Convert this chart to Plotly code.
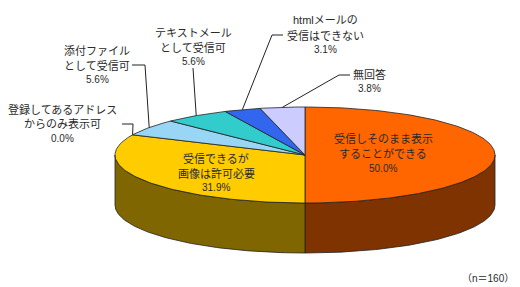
import math
import plotly.graph_objects as go

# ---- data ----
categories = [["受信しそのまま表示", "することができる"],
              ["受信できるが", "画像は許可必要"],
              ["登録してあるアドレス", "からのみ表示可"],
              ["添付ファイル", "として受信可"],
              ["テキストメール", "として受信可"],
              ["htmlメールの", "受信はできない"],
              ["無回答"]]
values = [50.0, 31.9, 0.0, 5.6, 5.6, 3.1, 3.8]
note = "（n＝160）"

# ---- style ----
top_colors = ["#FF6600", "#FFCC00", "#99CCFF", "#99D6F5", "#33CCCC", "#3366EE", "#CCCCFF"]
side_colors = ["#7F3300", "#806600", "#4C667F", "#4C6B7A", "#196666", "#193377", "#66667F"]
CX, CY, RX, RY, DEPTH = 305, 155, 190, 48, 50
FONT = "Liberation Sans, Noto Sans CJK JP, sans-serif"
TXT = "#2a2a2a"

# label layout: (x, y of each name line, y of percent line, leader path points before anchor)
label_pos = [
    (383, [138, 153], 168, None),
    (216, [158, 173], 187, None),
    (62, [109, 124], 138, [(122, 124), (133, 124)]),
    (97, [51, 65], 79, [(132, 65), (145, 65)]),
    (193, [33, 47], 61, [(193, 68)]),
    (325, [20, 35], 49, [(283, 35), (272, 35)]),
    (369, [74], 88, [(350, 75), (339, 75)]),
]


def pt(t_deg, dy=0.0):
    t = math.radians(t_deg)
    return CX + RX * math.sin(t), CY - RY * math.cos(t) + dy


def arc(a0, a1, dy=0.0):
    n = max(2, int(abs(a1 - a0)) + 2)
    return [pt(a0 + (a1 - a0) * i / (n - 1), dy) for i in range(n)]


total = sum(values)
angles = []
acc = 0.0
for v in values:
    a0 = acc / total * 360.0
    acc += v
    a1 = acc / total * 360.0
    angles.append((a0, a1))

fig = go.Figure()

# side faces (visible front half 90..270)
for (a0, a1), sc in zip(angles, side_colors):
    lo, hi = max(a0, 90.0), min(a1, 270.0)
    if hi - lo <= 0:
        continue
    top = arc(lo, hi)
    bot = arc(hi, lo, DEPTH)
    poly = top + bot + [top[0]]
    fig.add_trace(go.Scatter(x=[p[0] for p in poly], y=[p[1] for p in poly],
                             mode="lines", fill="toself", fillcolor=sc,
                             line=dict(color="#222222", width=0.8),
                             hoverinfo="skip", showlegend=False))

# top faces
for (a0, a1), tc in zip(angles, top_colors):
    if a1 - a0 <= 0:
        continue
    poly = [(CX, CY)] + arc(a0, a1) + [(CX, CY)]
    fig.add_trace(go.Scatter(x=[p[0] for p in poly], y=[p[1] for p in poly],
                             mode="lines", fill="toself", fillcolor=tc,
                             line=dict(color="#222222", width=0.8),
                             hoverinfo="skip", showlegend=False))

# labels and leader lines
for lines, v, (a0, a1), (lx, ys, py, lead) in zip(categories, values, angles, label_pos):
    for line, ly in zip(lines, ys):
        fig.add_annotation(x=lx, y=ly, text=line, showarrow=False, xanchor="center",
                           yanchor="middle", borderpad=0,
                           font=dict(family=FONT, size=11, color=TXT))
    fig.add_annotation(x=lx, y=py, text=f"{v:.1f}%", showarrow=False, xanchor="center",
                       yanchor="middle", borderpad=0,
                       font=dict(family="Liberation Sans, sans-serif", size=10, color=TXT))
    if lead:
        anchor = pt((a0 + a1) / 2.0)
        path = lead + [anchor]
        fig.add_trace(go.Scatter(x=[p[0] for p in path], y=[p[1] for p in path],
                                 mode="lines", line=dict(color="#222222", width=1),
                                 hoverinfo="skip", showlegend=False))

fig.add_annotation(x=488, y=278, text=note, showarrow=False, xanchor="center",
                   yanchor="middle", font=dict(family=FONT, size=10, color=TXT))

fig.update_layout(width=520, height=287, margin=dict(l=0, r=0, t=0, b=0),
                  paper_bgcolor="white", plot_bgcolor="white",
                  xaxis=dict(range=[0, 520], visible=False, fixedrange=True),
                  yaxis=dict(range=[287, 0], visible=False, fixedrange=True))

fig.write_html("out.html")
